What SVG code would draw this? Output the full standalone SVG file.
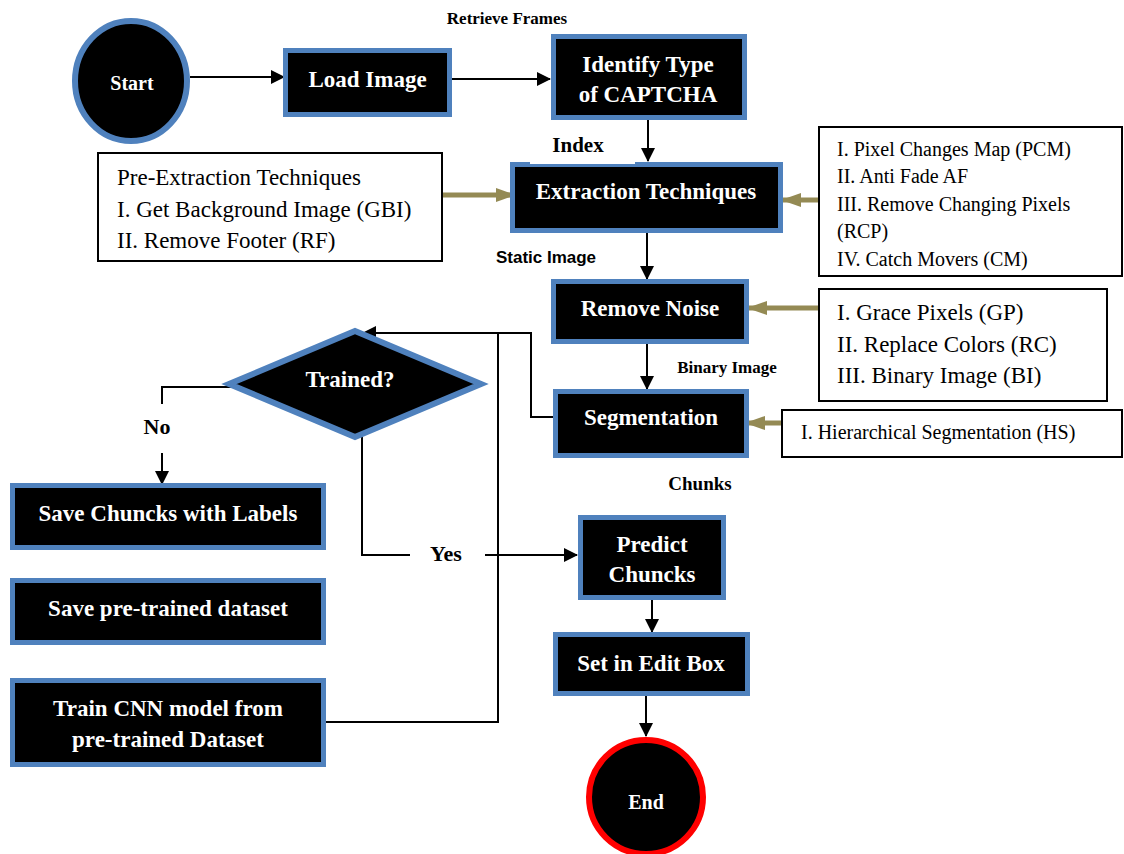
<svg xmlns="http://www.w3.org/2000/svg" width="1124" height="854" viewBox="0 0 1124 854">
<defs>
<marker id="ah" markerUnits="userSpaceOnUse" markerWidth="14" markerHeight="14" refX="13" refY="7" orient="auto">
<path d="M0,0 L14,7 L0,14 z" fill="#000"/>
</marker>
<marker id="oh" markerUnits="userSpaceOnUse" markerWidth="20" markerHeight="14" refX="19" refY="7" orient="auto">
<path d="M0,0 L20,7 L0,14 z" fill="#948A54"/>
</marker>
<style>
.box{fill:#000;stroke:#4F81BD;stroke-width:5}
.note{fill:#fff;stroke:#000;stroke-width:2}
.bt{font-family:"Liberation Serif","Times New Roman",serif;font-weight:bold;font-size:23px;fill:#fff;text-anchor:middle}
.nt{font-family:"Liberation Serif","Times New Roman",serif;fill:#000}
.lb{font-family:"Liberation Serif","Times New Roman",serif;font-weight:bold;fill:#000;text-anchor:middle}
.cn{fill:none;stroke:#000;stroke-width:2}
.ol{fill:none;stroke:#948A54;stroke-width:5}
</style>
</defs>

<g id="connectors">
<line class="cn" x1="190" y1="77" x2="284" y2="77" marker-end="url(#ah)"/>
<line class="cn" x1="452" y1="79" x2="550" y2="79" marker-end="url(#ah)"/>
<line class="cn" x1="648" y1="120" x2="648" y2="161" marker-end="url(#ah)"/>
<line class="cn" x1="647" y1="233" x2="647" y2="279" marker-end="url(#ah)"/>
<line class="cn" x1="647" y1="344" x2="647" y2="389" marker-end="url(#ah)"/>
<polyline class="cn" points="553,417 531,417 531,333 363,333" marker-end="url(#ah)"/>
<polyline class="cn" points="326,722 498,722 498,333"/>
<polyline class="cn" points="233,387 162,387 162,404"/>
<line class="cn" x1="162" y1="453" x2="162" y2="484" marker-end="url(#ah)"/>
<polyline class="cn" points="362,436 362,555 410,555"/>
<line class="cn" x1="485" y1="555" x2="577" y2="555" marker-end="url(#ah)"/>
<line class="cn" x1="652" y1="600" x2="652" y2="632" marker-end="url(#ah)"/>
<line class="cn" x1="646" y1="696" x2="646" y2="736" marker-end="url(#ah)"/>
<line class="ol" x1="443" y1="195" x2="515" y2="195" marker-end="url(#oh)"/>
<line class="ol" x1="819" y1="200" x2="782" y2="200" marker-end="url(#oh)"/>
<line class="ol" x1="819" y1="308" x2="748" y2="308" marker-end="url(#oh)"/>
<line class="ol" x1="782" y1="423" x2="746" y2="423" marker-end="url(#oh)"/>
</g>

<g id="start">
<ellipse cx="131" cy="81" rx="56" ry="60" fill="#000" stroke="#4F81BD" stroke-width="6"/>
<text class="bt" x="132" y="90" style="font-size:20px">Start</text>
</g>

<g id="load-image">
<rect class="box" x="285.5" y="50.5" width="164" height="64"/>
<text class="bt" x="367.5" y="87">Load Image</text>
</g>

<g id="identify-type">
<rect class="box" x="553.5" y="36.5" width="191" height="81"/>
<text class="bt" x="648" y="72">Identify Type</text>
<text class="bt" x="648" y="102">of CAPTCHA</text>
</g>

<g id="extraction">
<rect class="box" x="512.5" y="164.5" width="268" height="66"/>
<rect x="530" y="161" width="105" height="3" fill="#fff"/>
<text class="bt" x="646" y="199">Extraction Techniques</text>
</g>

<g id="remove-noise">
<rect class="box" x="553.5" y="281.5" width="193" height="60"/>
<text class="bt" x="650" y="316">Remove Noise</text>
</g>

<g id="segmentation">
<rect class="box" x="555.5" y="391.5" width="191" height="64"/>
<text class="bt" x="651" y="425">Segmentation</text>
</g>

<g id="trained">
<polygon points="229,384 355,331 481,384 355,437" fill="#000" stroke="#4F81BD" stroke-width="6"/>
<text class="bt" x="350" y="387">Trained?</text>
</g>

<g id="save-chuncks">
<rect class="box" x="12.5" y="485.5" width="311" height="62"/>
<text class="bt" x="168" y="521">Save Chuncks with Labels</text>
</g>

<g id="save-pretrained">
<rect class="box" x="12.5" y="580.5" width="311" height="62"/>
<text class="bt" x="168" y="616">Save pre-trained dataset</text>
</g>

<g id="train-cnn">
<rect class="box" x="12.5" y="680.5" width="311" height="84"/>
<text class="bt" x="168" y="716">Train CNN model from</text>
<text class="bt" x="168" y="747">pre-trained Dataset</text>
</g>

<g id="predict">
<rect class="box" x="580.5" y="517.5" width="143" height="80"/>
<text class="bt" x="652" y="552">Predict</text>
<text class="bt" x="652" y="582">Chuncks</text>
</g>

<g id="set-edit-box">
<rect class="box" x="555.5" y="634.5" width="192" height="59"/>
<text class="bt" x="651" y="671">Set in Edit Box</text>
</g>

<g id="end">
<circle cx="646" cy="797" r="57" fill="#000" stroke="#FF0000" stroke-width="6"/>
<text class="bt" x="646" y="809" style="font-size:20px">End</text>
</g>

<g id="pre-extraction">
<rect class="note" x="98" y="153" width="344" height="108"/>
<text class="nt" x="117" y="185" font-size="23">Pre-Extraction Techniques</text>
<text class="nt" x="117" y="217" font-size="23">I. Get Background Image (GBI)</text>
<text class="nt" x="117" y="248" font-size="23">II. Remove Footer (RF)</text>
</g>

<g id="pcm-list">
<rect class="note" x="819" y="127" width="303" height="149"/>
<text class="nt" x="837" y="156" font-size="20">I. Pixel Changes Map (PCM)</text>
<text class="nt" x="837" y="183" font-size="20">II. Anti Fade AF</text>
<text class="nt" x="837" y="211" font-size="20">III. Remove Changing Pixels</text>
<text class="nt" x="837" y="238" font-size="20">(RCP)</text>
<text class="nt" x="837" y="266" font-size="20">IV. Catch Movers (CM)</text>
</g>

<g id="gp-list">
<rect class="note" x="819" y="289" width="288" height="112"/>
<text class="nt" x="837" y="320" font-size="23">I. Grace Pixels (GP)</text>
<text class="nt" x="837" y="352" font-size="23">II. Replace Colors (RC)</text>
<text class="nt" x="837" y="383" font-size="23">III. Binary Image (BI)</text>
</g>

<g id="hs-list">
<rect class="note" x="782" y="410" width="340" height="47"/>
<text class="nt" x="801" y="439" font-size="20">I. Hierarchical Segmentation (HS)</text>
</g>

<g id="labels">
<text class="lb" x="507" y="24" font-size="17">Retrieve Frames</text>
<text class="lb" x="578" y="152" font-size="21">Index</text>
<text x="546" y="263" font-family="'Liberation Sans',Arial,sans-serif" font-weight="bold" font-size="17" text-anchor="middle" fill="#000">Static Image</text>
<text class="lb" x="727" y="373" font-size="17">Binary Image</text>
<text class="lb" x="700" y="490" font-size="19">Chunks</text>
<text class="lb" x="157" y="434" font-size="22">No</text>
<text class="lb" x="446" y="561" font-size="22">Yes</text>
</g>
</svg>
